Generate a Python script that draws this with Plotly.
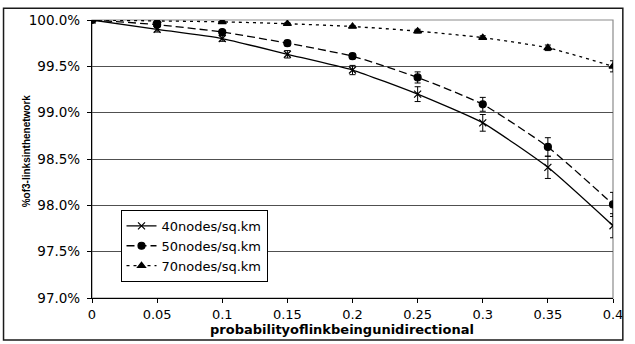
import plotly.graph_objects as go

prob = [0, 0.05, 0.1, 0.15, 0.2, 0.25, 0.3, 0.35, 0.4]
nodes40 = [100.0, 99.90, 99.80, 99.63, 99.46, 99.20, 98.89, 98.41, 97.78]
err40 = [0.0, 0.03, 0.03, 0.04, 0.05, 0.08, 0.09, 0.12, 0.13]
nodes50 = [100.0, 99.95, 99.87, 99.75, 99.61, 99.38, 99.09, 98.63, 98.01]
err50 = [0.0, 0.03, 0.02, 0.03, 0.03, 0.06, 0.075, 0.10, 0.13]
nodes70 = [100.0, 99.99, 99.98, 99.96, 99.93, 99.88, 99.81, 99.70, 99.50]
err70 = [0.0, 0.02, 0.01, 0.01, 0.01, 0.02, 0.02, 0.03, 0.06]
names = ["40nodes/sq.km", "50nodes/sq.km", "70nodes/sq.km"]
ytick_vals = [97.0, 97.5, 98.0, 98.5, 99.0, 99.5, 100.0]
xtick_vals = [0, 0.05, 0.1, 0.15, 0.2, 0.25, 0.3, 0.35, 0.4]
xtick_text = ["0", "0.05", "0.1", "0.15", "0.2", "0.25", "0.3", "0.35", "0.4"]
x_title = "probabilityoflinkbeingunidirectional"
y_title = "%of3-linksinthenetwork"

FONT = "DejaVu Sans, sans-serif"

fig = go.Figure()
series = [
    (nodes40, err40, names[0], "solid", "x-thin-open", 7),
    (nodes50, err50, names[1], "8px,4px", "circle", 7),
    (nodes70, err70, names[2], "3px,4px", "triangle-up", 7),
]
for ys, es, nm, dash, sym, sz in series:
    fig.add_trace(go.Scatter(
        x=prob, y=ys, name=nm, mode="lines+markers",
        line=dict(color="black", width=1.3, dash=dash, shape="spline", smoothing=0.5),
        marker=dict(symbol=sym, size=sz, color="black", line=dict(color="black", width=1.2)),
        error_y=dict(type="data", array=es, visible=True, color="black", thickness=1, width=3),
    ))

L, R, T, B = 92, 13, 14, 46
W, H = 635, 344
pw, ph = W - L - R, H - T - B


def px_x(p):
    return (p - L) / pw


def px_y(p):
    return (T + ph - p) / ph


shapes = [
    dict(type="rect", xref="paper", yref="paper", x0=0, x1=1, y0=0, y1=1,
         line=dict(color="#8c8c8c", width=1.2), layer="below"),
    dict(type="rect", xref="paper", yref="paper",
         x0=px_x(2), x1=px_x(632), y0=px_y(341), y1=px_y(2),
         line=dict(color="#1a1a1a", width=1.5)),
]

annotations = [
    dict(text=f"<b>{x_title}</b>", xref="paper", yref="paper",
         x=px_x(346), y=px_y(330), xanchor="center", yanchor="middle", showarrow=False,
         font=dict(family=FONT, size=13, color="black")),
    dict(text=f"<b>{y_title}</b>", xref="paper", yref="paper",
         x=px_x(25), y=px_y(148), xanchor="center", yanchor="middle", showarrow=False,
         textangle=-90,
         font=dict(family="Liberation Sans, Arial, sans-serif", size=10, color="black")),
]

fig.update_layout(
    width=W, height=H,
    margin=dict(l=L, r=R, t=T, b=B),
    paper_bgcolor="white", plot_bgcolor="white",
    font=dict(family=FONT, size=13, color="black"),
    shapes=shapes,
    annotations=annotations,
    showlegend=True,
    legend=dict(
        x=px_x(121), y=px_y(208), xanchor="left", yanchor="top",
        bgcolor="white", bordercolor="black", borderwidth=1,
        font=dict(family=FONT, size=13), tracegroupgap=0, itemwidth=30,
    ),
    xaxis=dict(
        range=[0, 0.4], tickvals=xtick_vals, ticktext=xtick_text,
        showgrid=False, zeroline=False,
        showline=True, linecolor="black", linewidth=1.2,
        ticks="outside", ticklen=4, tickcolor="black",
        tickfont=dict(size=13),
    ),
    yaxis=dict(
        range=[97.0, 100.0], tickvals=ytick_vals,
        ticktext=[f"{v:.1f}%" for v in ytick_vals],
        showgrid=True, gridcolor="#505050", gridwidth=1,
        zeroline=False,
        showline=True, linecolor="black", linewidth=1.2,
        ticks="outside", ticklen=4, tickcolor="black",
        ticklabelstandoff=4,
        tickfont=dict(size=13.5),
    ),
)

fig.write_html("out.html")
